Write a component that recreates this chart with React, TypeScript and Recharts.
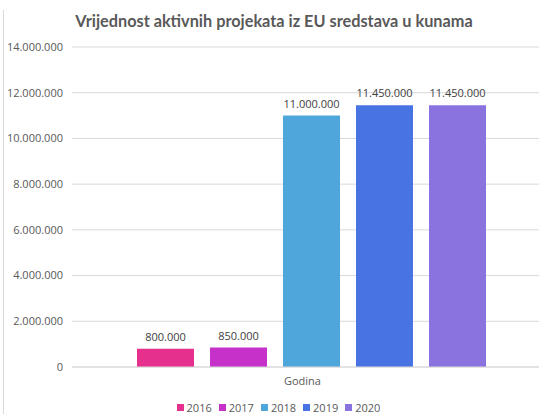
import React from 'react';
import { BarChart, Bar, XAxis, YAxis, CartesianGrid, Legend, LabelList } from 'recharts';

const title = 'Vrijednost aktivnih projekata iz EU sredstava u kunama';
const category = 'Godina';
const years = ['2016', '2017', '2018', '2019', '2020'];
const values = [800000, 850000, 11000000, 11450000, 11450000];
const colors = ['#E5308E', '#C631C9', '#4EA6DB', '#4874E3', '#8A72DF'];
const yTicks = [0, 2000000, 4000000, 6000000, 8000000, 10000000, 12000000, 14000000];

const FONT = '"Open Sans", sans-serif';

const fmt = (v: number) => String(Math.round(v)).replace(/\B(?=(\d{3})+(?!\d))/g, '.');

const data = [
  years.reduce((row: any, y, i) => {
    row['y' + y] = values[i];
    return row;
  }, { name: category }),
];

const GodinaTick = (props: any) => {
  const { x, y, payload } = props;
  return (
    <text x={x - 9} y={y + 10} textAnchor="middle" fill="#595959" fontSize={11} fontFamily={FONT}>
      {payload.value}
    </text>
  );
};

const LegendContent = () => (
  <div style={{ display: 'flex', justifyContent: 'center', fontFamily: FONT, fontSize: 11, color: '#595959' }}>
    {years.map((y, i) => (
      <div key={y} style={{ display: 'flex', alignItems: 'center', marginRight: 7 }}>
        <span style={{ width: 7, height: 7, background: colors[i], display: 'inline-block', marginRight: 3 }} />
        <span>{y}</span>
      </div>
    ))}
  </div>
);

export default function App() {
  return (
    <div style={{ position: 'absolute', left: 0, top: 0, width: 539, height: 414, overflow: 'hidden', background: '#fff' }}>
      <div style={{ position: 'absolute', left: 3, top: 10, width: 1, height: 404, background: '#D9D9D9' }} />
      <div
        style={{
          position: 'absolute', left: 0, width: 548, top: 11, textAlign: 'center',
          fontFamily: 'Lato, sans-serif', fontWeight: 700, fontSize: 16.3, color: '#595959', whiteSpace: 'nowrap',
        }}
      >
        {title}
      </div>
      <BarChart width={560} height={414} data={data} margin={{ top: 47, right: 9, left: 0, bottom: 17 }} barCategoryGap={65} barGap={16}>
        <CartesianGrid vertical={false} stroke="#D9D9D9" />
        <XAxis dataKey="name" height={30} axisLine={{ stroke: '#D9D9D9' }} tickLine={false} tick={<GodinaTick />} />
        <YAxis
          width={72}
          domain={[0, 14000000]}
          ticks={yTicks}
          tickFormatter={fmt}
          axisLine={false}
          tickLine={false}
          tickMargin={3}
          tick={{ fill: '#595959', fontSize: 11, fontFamily: FONT }}
        />
        <Legend layout="horizontal" verticalAlign="middle" align="center" content={<LegendContent />} wrapperStyle={{ top: 400, left: 2, width: 560 }} />
        {years.map((y, i) => (
          <Bar key={y} dataKey={'y' + y} name={y} fill={colors[i]} barSize={57} isAnimationActive={false}>
            <LabelList dataKey={'y' + y} position="top" offset={8} formatter={(v: any) => fmt(Number(v))} fill="#404040" fontSize={11} fontFamily={FONT} />
          </Bar>
        ))}
      </BarChart>
    </div>
  );
}
